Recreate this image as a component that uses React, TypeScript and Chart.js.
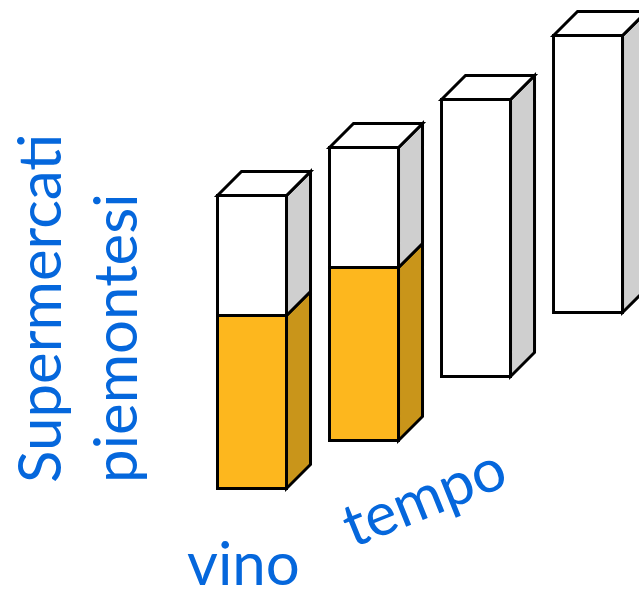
import React, { useEffect, useRef } from "react";
import { Chart, registerables } from "chart.js";

Chart.register(...registerables);

// Positions of the bars along the "tempo" direction
const positions = [1, 2, 3, 4];
// Bottom level of each bar (units on the vertical scale)
const baseValues = [0, 6, 14, 22];
// Level reached by the orange ("vino") part; null = no orange part
const orangeTops: (number | null)[] = [22, 28, null, null];
// Level of the top of each bar
const totalTops = [37, 43, 49, 57];

// Labels
const yTitleLines = ["Supermercati", "piemontesi"];
const xTitle = "vino";
const depthTitle = "tempo";

const ORANGE = "#FDB71E";
const ORANGE_SIDE = "#C9951A";
const WHITE = "#FFFFFF";
const WHITE_SIDE = "#CFCFCF";
const OUTLINE = "#000000";
const TEXT_BLUE = "#0567DC";
const DEPTH = 1 / 3; // depth of the 3D faces, as a fraction of bar width
const LW = 3;

const orangeData = positions
  .map((x, i) => (orangeTops[i] == null ? null : { x, y: [baseValues[i], orangeTops[i] as number] }))
  .filter((p) => p !== null);
const whiteData = positions.map((x, i) => ({
  x,
  y: [orangeTops[i] == null ? baseValues[i] : (orangeTops[i] as number), totalTops[i]],
}));

const cube3d = {
  id: "cube3d",
  afterDatasetsDraw(chart: any) {
    const ctx: CanvasRenderingContext2D = chart.ctx;
    ctx.save();
    ctx.lineWidth = LW;
    ctx.strokeStyle = OUTLINE;
    ctx.lineJoin = "miter";
    chart.data.datasets.forEach((ds: any, di: number) => {
      const meta = chart.getDatasetMeta(di);
      meta.data.forEach((el: any, idx: number) => {
        const { x, y, base, width } = el.getProps(["x", "y", "base", "width"], true);
        const d = width * DEPTH;
        const h = LW / 2;
        const l = x - width / 2 + h;
        const r = x + width / 2 - h;
        const t = Math.min(y, base) + h;
        const onOrange = ds.isCap && orangeTops[positions.indexOf(ds.data[idx].x)] != null;
        const b = onOrange ? Math.max(y, base) + h : Math.max(y, base) - h;
        // side face
        ctx.beginPath();
        ctx.moveTo(r, t);
        ctx.lineTo(r + d, t - d);
        ctx.lineTo(r + d, b - d);
        ctx.lineTo(r, b);
        ctx.closePath();
        ctx.fillStyle = ds.sideColor;
        ctx.fill();
        ctx.stroke();
        if (ds.isCap) {
          ctx.beginPath();
          ctx.moveTo(l, t);
          ctx.lineTo(l + d, t - d);
          ctx.lineTo(r + d, t - d);
          ctx.lineTo(r, t);
          ctx.closePath();
          ctx.fillStyle = WHITE;
          ctx.fill();
          ctx.stroke();
        }
      });
    });
    ctx.restore();
  },
  afterDraw(chart: any) {
    const ctx: CanvasRenderingContext2D = chart.ctx;
    ctx.save();
    ctx.fillStyle = TEXT_BLUE;
    ctx.font = "60px Lato";
    ctx.textAlign = "left";
    ctx.textBaseline = "alphabetic";
    const lineX = [61, 137];
    yTitleLines.forEach((line, i) => {
      ctx.save();
      ctx.translate(lineX[i], 483);
      ctx.rotate(-Math.PI / 2);
      ctx.fillText(line, 0, 0);
      ctx.restore();
    });
    ctx.fillText(xTitle, 187, 585);
    ctx.save();
    ctx.translate(353, 548);
    ctx.rotate((-22 * Math.PI) / 180);
    ctx.fillText(depthTitle, 0, 0);
    ctx.restore();
    ctx.restore();
  },
};

export default function App() {
  const ref = useRef<HTMLCanvasElement | null>(null);
  useEffect(() => {
    if (!ref.current) return;
    const chart = new Chart(ref.current, {
      type: "bar",
      data: {
        datasets: [
          {
            label: "vino",
            data: orangeData as any,
            backgroundColor: ORANGE,
            borderColor: OUTLINE,
            borderWidth: LW,
            borderSkipped: false,
            barThickness: 72,
            grouped: false,
            inflateAmount: 0,
            sideColor: ORANGE_SIDE,
            isCap: false,
          } as any,
          {
            label: "supermercati",
            data: whiteData as any,
            backgroundColor: WHITE,
            borderColor: OUTLINE,
            borderWidth: LW,
            borderSkipped: (c: any) => (orangeTops[c.dataIndex] != null ? "bottom" : false),
            barThickness: 72,
            grouped: false,
            inflateAmount: 0,
            sideColor: WHITE_SIDE,
            isCap: true,
          } as any,
        ],
      },
      options: {
        responsive: false,
        animation: false,
        layout: { padding: { left: 140, top: 10, bottom: 99, right: 0 } },
        plugins: { legend: { display: false }, tooltip: { enabled: false } },
        scales: {
          x: { type: "linear", min: 0, max: 4.455, offset: false, display: false },
          y: { type: "linear", min: 0, max: 60, display: false },
        },
      },
      plugins: [cube3d],
    });
    return () => chart.destroy();
  }, []);
  return (
    <div style={{ position: "absolute", left: 0, top: 0, width: 639, height: 589, overflow: "hidden" }}>
      <canvas ref={ref} width={639} height={589} />
    </div>
  );
}
